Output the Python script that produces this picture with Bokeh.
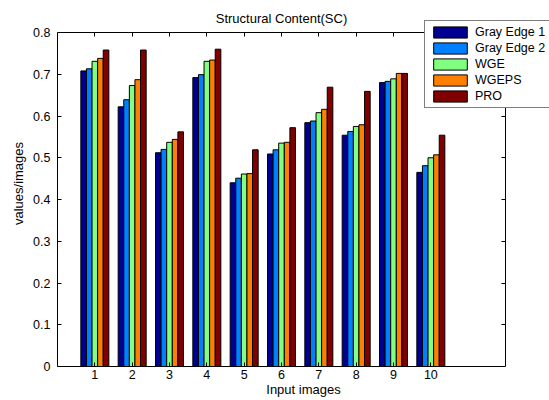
from bokeh.plotting import figure
from bokeh.models import (LinearAxis, FixedTicker, Legend, LegendItem, Label,
                          Range1d, ColumnDataSource)
from bokeh.transform import dodge
from bokeh.embed import file_html
from bokeh.resources import INLINE

# ---- data ----
images = [1, 2, 3, 4, 5, 6, 7, 8, 9, 10]
gray_edge1 = [0.708, 0.622, 0.512, 0.692, 0.440, 0.509, 0.584, 0.554, 0.680, 0.465]
gray_edge2 = [0.713, 0.639, 0.520, 0.699, 0.451, 0.519, 0.588, 0.563, 0.683, 0.481]
wge        = [0.731, 0.673, 0.537, 0.731, 0.461, 0.535, 0.608, 0.575, 0.689, 0.500]
wgeps      = [0.738, 0.687, 0.544, 0.734, 0.462, 0.537, 0.616, 0.579, 0.702, 0.507]
pro        = [0.758, 0.758, 0.562, 0.760, 0.519, 0.572, 0.669, 0.659, 0.702, 0.554]

series_names = ["Gray Edge 1", "Gray Edge 2", "WGE", "WGEPS", "PRO"]
series_keys = ["g1", "g2", "wge", "wgeps", "pro"]
series_colors = ["#000090", "#0080FF", "#80FF80", "#FF8000", "#800000"]

y_ticks = [0, 0.1, 0.2, 0.3, 0.4, 0.5, 0.6, 0.7, 0.8]
y_tick_labels = ["0", "0.1", "0.2", "0.3", "0.4", "0.5", "0.6", "0.7", "0.8"]
x_tick_labels = [str(i) for i in images]

title_text = "Structural Content(SC)"
x_label = "Input images"
y_label = "values/images"

source = ColumnDataSource(data=dict(x=images, g1=gray_edge1, g2=gray_edge2,
                                    wge=wge, wgeps=wgeps, pro=pro))

FONT = "Liberation Sans"
W, H = 549, 400
LEFT, BOTTOM = 57, 34
AX_W, AX_H = 448, 334          # size of the visible axes box
X_MAX, Y_MAX = 12, 0.8
# the frame extends to the canvas top/right so the legend can overhang the box
x_end = X_MAX * (W - LEFT) / AX_W
y_end = Y_MAX * (H - BOTTOM) / AX_H

p = figure(width=W, height=H, x_range=Range1d(0, x_end), y_range=Range1d(0, y_end),
           output_backend="svg", toolbar_location=None,
           x_axis_type=None, y_axis_type=None,
           min_border_left=LEFT, min_border_right=0,
           min_border_top=0, min_border_bottom=BOTTOM)
p.xgrid.visible = False
p.ygrid.visible = False
p.outline_line_color = None
p.background_fill_color = "white"
p.border_fill_color = "white"


def make_axis(ticks, overrides, show_labels, bounds, standoff=4, fixed=None):
    ax = LinearAxis(ticker=FixedTicker(ticks=ticks, minor_ticks=[]),
                    bounds=bounds,
                    major_tick_in=4, major_tick_out=0,
                    minor_tick_in=0, minor_tick_out=0,
                    axis_line_color="black", major_tick_line_color="black",
                    major_label_overrides=overrides,
                    major_label_text_font=FONT)
    if fixed is not None:
        ax.fixed_location = fixed
    if show_labels:
        ax.major_label_text_font_size = "12.5px"
        ax.major_label_text_color = "black"
        ax.major_label_standoff = standoff
    else:
        ax.major_label_text_font_size = "1px"
        ax.major_label_text_color = None
        ax.major_label_standoff = 0
    return ax


x_over = {float(v): s for v, s in zip(images, x_tick_labels)}
y_over = {float(v): s for v, s in zip(y_ticks, y_tick_labels)}

bottom = make_axis(images, x_over, True, (0, X_MAX), standoff=3)
bottom.axis_label = x_label
bottom.axis_label_text_font = FONT
bottom.axis_label_text_font_size = "13px"
bottom.axis_label_text_font_style = "normal"
bottom.axis_label_text_color = "black"
bottom.axis_label_standoff = 0

left = make_axis(y_ticks, y_over, True, (0, Y_MAX), standoff=7)
left.axis_label = y_label
left.axis_label_text_font = FONT
left.axis_label_text_font_size = "13px"
left.axis_label_text_font_style = "normal"
left.axis_label_text_color = "black"
left.axis_label_standoff = 4

top = make_axis(images, x_over, False, (0, X_MAX), fixed=Y_MAX)
right = make_axis(y_ticks, y_over, False, (0, Y_MAX), fixed=X_MAX)

p.add_layout(bottom, "below")
p.add_layout(left, "left")
p.add_layout(top, "above")
p.add_layout(right, "right")

offsets = [-0.3, -0.15, 0.0, 0.15, 0.3]
items = []
for key, name, col, off in zip(series_keys, series_names, series_colors, offsets):
    r = p.vbar(x=dodge("x", off), top=key, bottom=0, width=0.15, source=source,
               fill_color=col, line_color="black", line_width=1)
    items.append(LegendItem(label=name, renderers=[r]))

legend = Legend(items=items, location=(367, 258), orientation="vertical",
                border_line_color="black", border_line_width=1,
                background_fill_color="white", background_fill_alpha=1,
                label_text_font=FONT, label_text_font_size="12.5px",
                label_text_color="black",
                glyph_width=42, glyph_height=14, label_height=14,
                label_width=80,
                label_standoff=4, spacing=2, padding=4, margin=0)
p.add_layout(legend, "center")

p.add_layout(Label(x=X_MAX / 2, y=H - BOTTOM - 18, y_units="screen", text=title_text,
                   text_align="center", text_baseline="middle",
                   text_font=FONT, text_font_size="13px", text_color="black"))

open("out.html", "w").write(file_html(p, INLINE))
